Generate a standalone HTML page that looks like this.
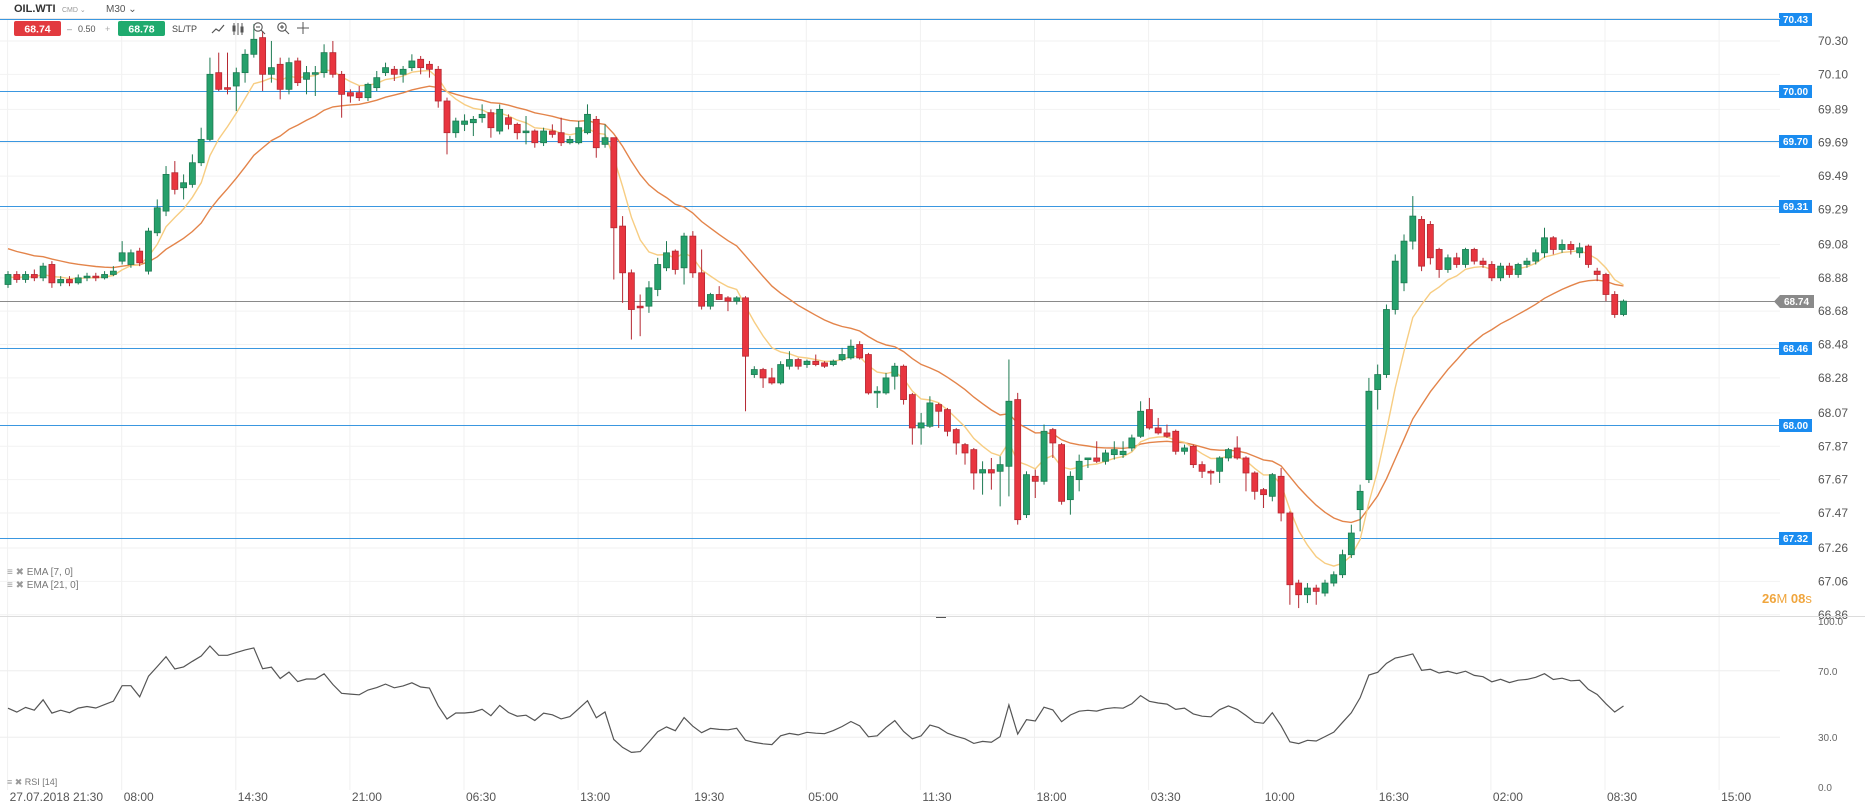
<!DOCTYPE html>
<html><head><meta charset="utf-8"><style>
body{margin:0;width:1865px;height:805px;overflow:hidden;background:#fff;font-family:"Liberation Sans",sans-serif}
svg text{font-family:"Liberation Sans",sans-serif}
</style></head><body>
<svg id="chart" width="1865" height="805" viewBox="0 0 1865 805" xmlns="http://www.w3.org/2000/svg">
<g id="grid"></g>
<g id="levels"></g>
<g id="emas"></g>
<g id="candles"></g>
<g id="rsi"></g>
<g id="axes"></g>
<g>
<text x="14" y="12" font-size="11" font-weight="bold" fill="#333">OIL.WTI</text>
<text x="62" y="12" font-size="7" fill="#999">CMD ⌄</text>
<text x="106" y="12" font-size="10" fill="#555">M30 ⌄</text>
<line x1="0" y1="18.5" x2="1780" y2="18.5" stroke="#eaeaea"/>
<rect x="14" y="21" width="47" height="15" rx="2" fill="#e23a3f"/>
<text x="37.5" y="32.5" font-size="10.5" font-weight="bold" fill="#fff" text-anchor="middle">68.74</text>
<text x="67" y="32" font-size="9" fill="#888">–</text>
<text x="78" y="32" font-size="9" fill="#555">0.50</text>
<text x="105" y="32" font-size="9" fill="#aaa">+</text>
<rect x="118" y="21" width="47" height="15" rx="2" fill="#1faa6e"/>
<text x="141.5" y="32.5" font-size="10.5" font-weight="bold" fill="#fff" text-anchor="middle">68.78</text>
<text x="172" y="32" font-size="9" fill="#444">SL/TP</text>
<path d="M212 33 L216 29 L219 31 L224 25" stroke="#555" fill="none" stroke-width="1.2"/>
<g stroke="#555" stroke-width="1"><line x1="234" y1="23" x2="234" y2="35"/><line x1="238" y1="23" x2="238" y2="35"/><line x1="242" y1="23" x2="242" y2="35"/><rect x="233" y="26" width="2" height="5" fill="#555"/><rect x="241" y="27" width="2" height="5" fill="#555"/></g>
<g stroke="#555" fill="none" stroke-width="1.1"><circle cx="258" cy="27" r="4.2"/><line x1="261" y1="30" x2="265" y2="34"/><line x1="256" y1="27" x2="260" y2="27"/></g>
<g stroke="#555" fill="none" stroke-width="1.1"><circle cx="282" cy="27" r="4.2"/><line x1="285" y1="30" x2="289" y2="34"/><line x1="280" y1="27" x2="284" y2="27"/><line x1="282" y1="25" x2="282" y2="29"/></g>
<g stroke="#555" stroke-width="1"><line x1="297" y1="28" x2="309" y2="28"/><line x1="303" y1="22" x2="303" y2="34"/></g>
</g>
<g>
<text x="7" y="575" font-size="10" fill="#999">≡ ✖ <tspan fill="#777">EMA [7, 0]</tspan></text>
<text x="7" y="588" font-size="10" fill="#999">≡ ✖ <tspan fill="#777">EMA [21, 0]</tspan></text>
<text x="7" y="785" font-size="9" fill="#999">≡ ✖ <tspan fill="#777">RSI [14]</tspan></text>
</g>
<text x="1762" y="603" font-size="13" fill="#f0a53c"><tspan font-weight="bold">26</tspan>M <tspan font-weight="bold">08</tspan>s</text>
</svg>
<script>
const opens=[68.84,68.90,68.87,68.90,68.88,68.96,68.85,68.87,68.85,68.88,68.89,68.88,68.90,68.98,68.96,69.04,68.92,69.15,69.28,69.51,69.42,69.44,69.57,69.71,70.11,70.02,70.03,70.11,70.22,70.32,70.10,70.16,70.01,70.18,70.07,70.10,70.11,70.23,70.10,69.99,69.99,69.96,70.02,70.11,70.13,70.10,70.14,70.19,70.16,70.13,69.94,69.75,69.80,69.81,69.84,69.87,69.76,69.84,69.80,69.75,69.76,69.69,69.76,69.75,69.69,69.69,69.75,69.83,69.68,69.72,69.19,68.91,68.71,68.71,68.81,68.94,69.04,68.94,69.13,68.91,68.71,68.78,68.76,68.74,68.76,68.30,68.33,68.28,68.25,68.35,68.39,68.36,68.38,68.37,68.36,68.39,68.40,68.48,68.42,68.19,68.19,68.29,68.35,68.18,67.98,67.99,68.12,68.09,67.97,67.88,67.85,67.71,67.73,67.72,67.75,68.15,67.46,67.69,67.66,67.97,67.88,67.55,67.67,67.79,67.80,67.78,67.82,67.82,67.86,67.93,68.09,67.98,67.95,67.96,67.84,67.87,67.76,67.72,67.72,67.80,67.86,67.80,67.71,67.61,67.57,67.69,67.47,67.05,66.98,67.02,66.99,67.05,67.10,67.22,67.49,67.67,68.21,68.30,68.69,68.85,69.10,69.23,69.20,69.05,68.93,69.00,68.96,69.05,68.98,68.96,68.88,68.95,68.90,68.96,68.98,69.03,69.12,69.05,69.08,69.03,69.07,68.92,68.90,68.78,68.66];
const closes=[68.90,68.87,68.90,68.88,68.95,68.85,68.87,68.85,68.88,68.89,68.88,68.90,68.92,69.03,69.03,68.97,69.16,69.30,69.50,69.41,69.45,69.57,69.71,70.10,70.01,70.01,70.11,70.22,70.31,70.10,70.14,70.01,70.17,70.05,70.11,70.11,70.23,70.10,69.98,69.97,69.96,70.04,70.08,70.14,70.10,70.13,70.18,70.14,70.13,69.94,69.75,69.82,69.82,69.83,69.86,69.78,69.89,69.80,69.75,69.76,69.69,69.76,69.74,69.69,69.71,69.78,69.86,69.66,69.72,69.18,68.91,68.69,68.70,68.82,68.96,69.03,68.93,69.13,68.91,68.71,68.78,68.75,68.74,68.76,68.41,68.33,68.28,68.25,68.36,68.39,68.35,68.38,68.36,68.35,68.38,68.42,68.47,68.40,68.19,68.20,68.28,68.35,68.15,67.98,68.01,68.13,68.08,67.96,67.89,67.83,67.71,67.73,67.71,67.76,68.14,67.43,67.70,67.66,67.96,67.89,67.54,67.69,67.78,67.80,67.78,67.83,67.85,67.84,67.92,68.08,67.98,67.95,67.93,67.84,67.86,67.76,67.72,67.71,67.80,67.85,67.80,67.71,67.60,67.58,67.70,67.47,67.04,66.98,67.02,67.00,67.05,67.10,67.22,67.35,67.60,68.20,68.30,68.69,68.98,69.10,69.25,68.95,69.00,68.93,69.00,68.96,69.05,68.98,68.96,68.88,68.95,68.90,68.96,68.98,69.03,69.12,69.05,69.08,69.05,69.06,68.96,68.90,68.78,68.66,68.74];
const highs=[68.92,68.92,68.92,68.93,68.97,68.98,68.89,68.89,68.90,68.91,68.91,68.92,68.95,69.10,69.05,69.06,69.18,69.35,69.55,69.58,69.50,69.62,69.78,70.20,70.23,70.23,70.14,70.25,70.40,70.36,70.30,70.20,70.20,70.20,70.15,70.15,70.28,70.30,70.12,70.01,70.03,70.05,70.12,70.17,70.15,70.15,70.22,70.21,70.18,70.15,69.96,69.84,69.86,69.85,69.92,69.89,69.92,69.86,69.81,69.85,69.77,69.78,69.80,69.84,69.73,69.82,69.92,69.85,69.80,69.72,69.25,68.93,68.78,68.86,69.00,69.10,69.05,69.15,69.16,69.05,68.79,68.83,68.77,68.77,68.77,68.35,68.34,68.34,68.38,68.44,68.40,68.39,68.42,68.38,68.39,68.46,68.51,68.50,68.43,68.23,68.31,68.37,68.36,68.19,68.07,68.17,68.13,68.10,67.98,67.89,67.86,67.78,67.80,67.81,68.39,68.19,67.72,67.73,68.00,67.98,67.89,67.72,67.82,67.79,67.90,67.85,67.90,67.90,67.94,68.14,68.16,68.04,68.00,67.97,67.88,67.88,67.78,67.73,67.81,67.86,67.93,67.81,67.72,67.62,67.71,67.74,67.48,67.07,67.05,67.04,67.07,67.12,67.25,67.40,67.64,68.28,68.36,68.72,69.02,69.14,69.37,69.25,69.22,69.06,69.02,69.03,69.06,69.06,69.00,68.98,68.97,68.97,68.97,69.00,69.05,69.18,69.13,69.11,69.10,69.09,69.08,68.94,68.91,68.80,68.75];
const lows=[68.82,68.85,68.85,68.86,68.86,68.82,68.83,68.83,68.84,68.86,68.86,68.87,68.89,68.96,68.94,68.95,68.90,69.13,69.25,69.38,69.35,69.42,69.55,69.70,70.00,69.98,69.88,70.05,70.20,70.00,70.05,69.95,69.98,70.03,69.98,69.97,70.08,70.08,69.84,69.93,69.94,69.94,70.00,70.09,70.06,70.05,70.12,70.10,70.08,69.90,69.62,69.72,69.76,69.73,69.81,69.72,69.74,69.77,69.71,69.68,69.66,69.67,69.72,69.67,69.68,69.68,69.74,69.60,69.66,68.87,68.73,68.51,68.53,68.67,68.77,68.92,68.90,68.84,68.88,68.69,68.69,68.75,68.68,68.72,68.08,68.28,68.22,68.24,68.24,68.33,68.33,68.34,68.35,68.34,68.35,68.38,68.39,68.39,68.18,68.10,68.18,68.21,68.12,67.88,67.88,67.98,67.98,67.93,67.82,67.76,67.61,67.58,67.61,67.51,67.57,67.40,67.44,67.56,67.64,67.80,67.52,67.46,67.60,67.74,67.77,67.76,67.79,67.80,67.84,67.92,67.97,67.94,67.92,67.82,67.82,67.74,67.68,67.64,67.65,67.78,67.79,67.60,67.55,67.50,67.54,67.42,66.92,66.90,66.93,66.92,66.97,67.03,67.08,67.20,67.36,67.65,68.09,68.28,68.66,68.80,69.05,68.92,68.96,68.88,68.91,68.94,68.94,68.96,68.94,68.86,68.86,68.88,68.88,68.94,68.96,69.00,69.02,69.03,69.02,69.00,68.94,68.86,68.74,68.64,68.65];
const priceTicks=["70.30","70.10","69.89","69.69","69.49","69.29","69.08","68.88","68.68","68.48","68.28","68.07","67.87","67.67","67.47","67.26","67.06","66.86"];
const levelLines=[70.43,70.00,69.70,69.31,68.46,68.00,67.32];
const currentPrice=68.74;
const timeLabels=["27.07.2018 21:30","08:00","14:30","21:00","06:30","13:00","19:30","05:00","11:30","18:00","03:30","10:00","16:30","02:00","08:30","15:00"];
const rsiTicks=["100.0","70.0","30.0","0.0"];
const ema7Seed=68.88, ema21Seed=69.07;
const rsiSeedGain=0.018, rsiSeedLoss=0.025;

const NS="http://www.w3.org/2000/svg";
function mk(tag,attrs,parent){const e=document.createElementNS(NS,tag);for(const k in attrs)e.setAttribute(k,attrs[k]);parent.appendChild(e);return e;}
const yP=p=>91+(70-p)*166.8;
const xI=i=>8+i*8.78;
const yR=v=>787-v*1.66;
const gGrid=document.getElementById('grid'),gLev=document.getElementById('levels'),gEma=document.getElementById('emas'),gC=document.getElementById('candles'),gR=document.getElementById('rsi'),gA=document.getElementById('axes');

timeLabels.forEach((t,k)=>{
  const x=7.6+k*114.1;
  const l=mk('line',{x1:x,y1:19,x2:x,y2:790,stroke:'#f0f0f0'},gGrid);
  
  
  const tx=mk('text',{x:x+2,y:801,'font-size':12,fill:'#555'},gA);
  tx.textContent=t;
  
  
});
priceTicks.forEach(t=>{
  const y=yP(parseFloat(t));
  const l=mk('line',{x1:0,y1:y,x2:1780,y2:y,stroke:'#f2f2f2'},gGrid);
  
  
  const tx=mk('text',{x:1818,y:y+4,'font-size':12,fill:'#555'},gA);
  tx.textContent=t;
  
  
});
levelLines.forEach(p=>{
  const y=Math.round(yP(p))+0.5;
  const l=mk('line',{x1:0,y1:y,x2:1780,y2:y,stroke:'#3a97e0','stroke-width':1},gLev);
  
  
  const r=mk('rect',{x:1779,y:y-6.5,width:33,height:13,fill:'#1a8cf0'},gLev);
  
  
  const tx=mk('text',{x:1795.5,y:y+3.5,'font-size':10,'font-weight':'bold',fill:'#fff','text-anchor':'middle'},gLev);
  tx.textContent=p.toFixed(2);
  
  
});
{
  const y=Math.round(yP(currentPrice))+0.5;
  const l=mk('line',{x1:0,y1:y,x2:1780,y2:y,stroke:'#8a8a8a'},gLev);
  
  
  const r=mk('path',{d:`M1774 ${y} L1780 ${y-6.5} L1814 ${y-6.5} L1814 ${y+6.5} L1780 ${y+6.5} Z`,fill:'#8a8a8a'},gLev);
  
  
  const tx=mk('text',{x:1796.5,y:y+3.5,'font-size':10,'font-weight':'bold',fill:'#fff','text-anchor':'middle'},gLev);
  tx.textContent=currentPrice.toFixed(2);
  
  
}
const sep=mk('line',{x1:0,y1:616.5,x2:1865,y2:616.5,stroke:'#dcdcdc'},gA);


const dash=mk('line',{x1:936,y1:617.5,x2:946,y2:617.5,stroke:'#555'},gA);



function ema(seed,n){const k=2/(n+1);let e=seed;return closes.map(c=>(e=c*k+e*(1-k)));}
const e7=ema(ema7Seed,7),e21=ema(ema21Seed,21);
[[e21,'#e3844a','ema21-line'],[e7,'#f7cd82','ema7-line']].forEach(([arr,col,name])=>{
  const p=mk('polyline',{points:arr.map((v,i)=>xI(i).toFixed(1)+','+yP(v).toFixed(1)).join(' '),fill:'none',stroke:col,'stroke-width':1.4},gEma);
  
  
});
closes.forEach((c,i)=>{
  const o=opens[i],up=c>=o,x=xI(i);
  const col=up?'#25a06b':'#e8353f',bd=up?'#1d7a52':'#b52832';
  const g=mk('g',{},gC);
  
  
  mk('line',{x1:x,y1:yP(highs[i]),x2:x,y2:yP(lows[i]),stroke:bd,'stroke-width':1},g);
  const t=yP(Math.max(o,c)),b=yP(Math.min(o,c));
  mk('rect',{x:x-3,y:t,width:6,height:Math.max(1.2,b-t),fill:col,stroke:bd,'stroke-width':0.8},g);
});
[70,30].forEach(v=>{
  const l=mk('line',{x1:0,y1:yR(v),x2:1780,y2:yR(v),stroke:'#eeeeee'},gR);
  
  
});
rsiTicks.forEach(t=>{
  const tx=mk('text',{x:1818,y:yR(parseFloat(t))+4,'font-size':10,fill:'#666'},gA);
  tx.textContent=t;
  
  
});
let ag=rsiSeedGain,al=rsiSeedLoss;
const rsi=closes.map((c,i)=>{const prev=i?closes[i-1]:opens[0];const d=c-prev;ag=(ag*13+Math.max(d,0))/14;al=(al*13+Math.max(-d,0))/14;return 100-100/(1+ag/al);});
const rl=mk('polyline',{points:rsi.map((v,i)=>xI(i).toFixed(1)+','+yR(v).toFixed(1)).join(' '),fill:'none',stroke:'#555','stroke-width':1.2},gR);


</script>
</body></html>
